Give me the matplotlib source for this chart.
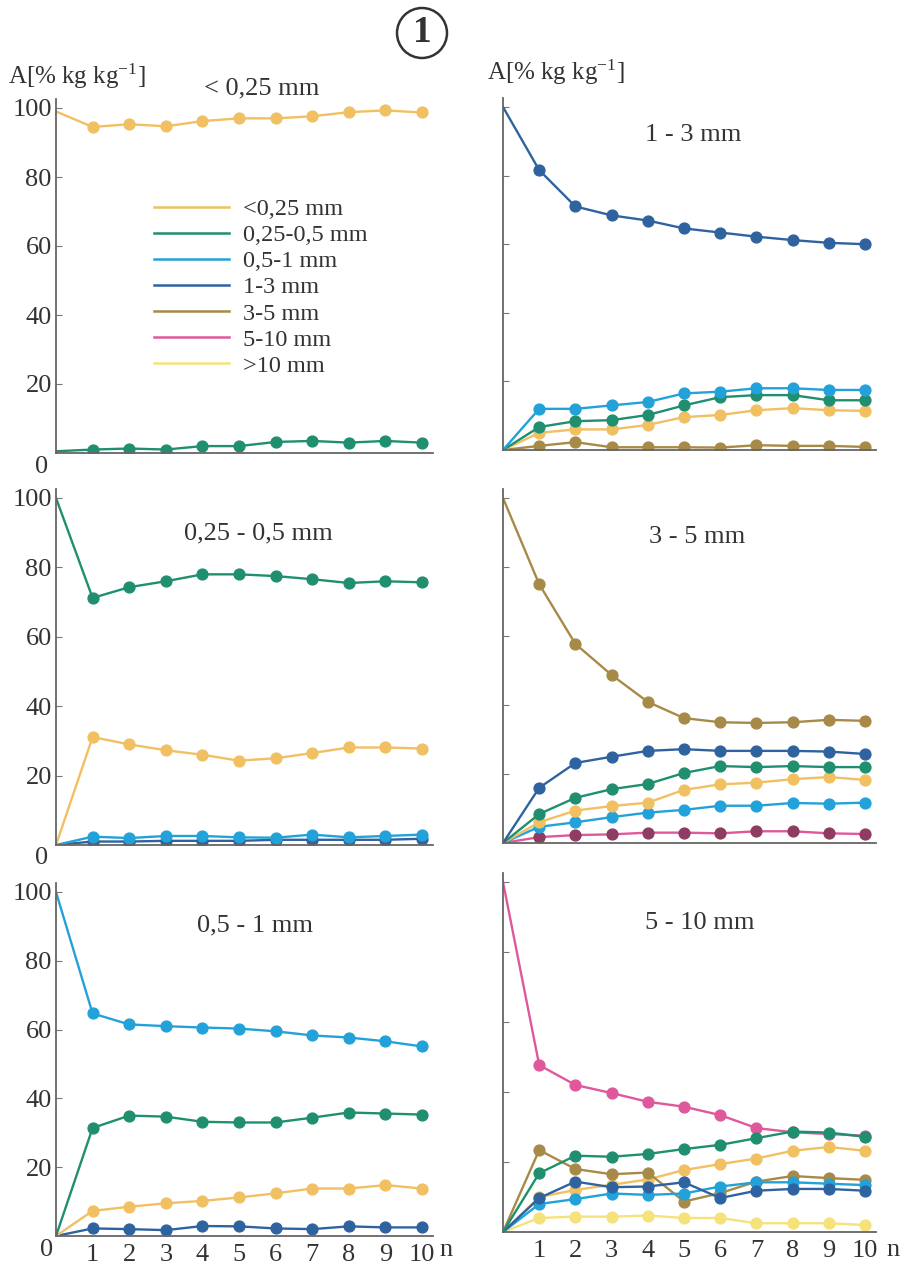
import matplotlib.pyplot as plt
from matplotlib.lines import Line2D

plt.rcParams['font.family'] = ['Liberation Serif', 'DejaVu Serif']
plt.rcParams['mathtext.default'] = 'regular'

n = [0, 1, 2, 3, 4, 5, 6, 7, 8, 9, 10]

labels = ['<0,25 mm', '0,25-0,5 mm', '0,5-1 mm', '1-3 mm', '3-5 mm', '5-10 mm', '>10 mm']
colors = ['#f1c062', '#1f8f70', '#22a2d8', '#2f63a0', '#a88a48', '#e0589c', '#f6e27a']

# panel < 0,25 mm
a_lt025 = [99, 94.5, 95.3, 94.7, 96.2, 97, 97, 97.6, 98.8, 99.3, 98.7]
a_025_05 = [0.5, 1, 1.3, 1, 2, 2, 3.2, 3.5, 3, 3.5, 3]

# panel 1 - 3 mm
b_1_3 = [100, 81.6, 71, 68.4, 66.9, 64.6, 63.4, 62.2, 61.2, 60.4, 60]
b_05_1 = [0, 12, 12, 13, 14, 16.5, 17, 18, 18, 17.5, 17.5]
b_025_05 = [0, 6.7, 8.4, 8.7, 10.2, 13, 15.4, 16, 16, 14.5, 14.5]
b_lt025 = [0, 5, 6, 6, 7.3, 9.6, 10.2, 11.6, 12.2, 11.6, 11.4]
b_3_5 = [0, 1.2, 2.3, 0.8, 0.8, 0.8, 0.7, 1.4, 1.2, 1.2, 0.9]

# panel 0,25 - 0,5 mm
c_025_05 = [100, 71.2, 74.3, 76, 78, 78, 77.5, 76.6, 75.5, 76, 75.7]
c_lt025 = [0, 31.1, 29, 27.3, 26, 24.3, 25, 26.5, 28.1, 28.1, 27.8]
c_05_1 = [0, 2.4, 2, 2.6, 2.6, 2.2, 2.1, 3, 2.2, 2.6, 3]
c_1_3 = [0, 1, 1, 1.2, 1.2, 1.2, 1.5, 1.5, 1.5, 1.5, 1.8]

# panel 3 - 5 mm
d_3_5 = [100, 75, 57.7, 48.7, 40.9, 36.2, 35, 34.8, 35, 35.7, 35.4]
d_1_3 = [0, 16, 23.2, 25, 26.7, 27.2, 26.7, 26.7, 26.7, 26.5, 25.8]
d_025_05 = [0, 8.4, 13.1, 15.6, 17.1, 20.3, 22.3, 22, 22.3, 22, 22]
d_lt025 = [0, 6, 9.4, 10.7, 11.7, 15.4, 17, 17.5, 18.5, 19.1, 18.3]
d_05_1 = [0, 4.7, 6, 7.5, 8.8, 9.6, 10.8, 10.8, 11.6, 11.4, 11.7]
d_5_10 = [0, 1.7, 2.3, 2.5, 3, 3, 2.8, 3.4, 3.4, 2.8, 2.6]

# panel 0,5 - 1 mm
e_05_1 = [100, 64.7, 61.5, 61, 60.6, 60.3, 59.5, 58.3, 57.7, 56.6, 55.1]
e_025_05 = [0, 31.4, 35, 34.7, 33.2, 33, 33, 34.4, 35.9, 35.6, 35.3]
e_lt025 = [0, 7.3, 8.5, 9.5, 10.2, 11.2, 12.4, 13.8, 13.8, 14.8, 13.8]
e_1_3 = [0, 2.2, 2, 1.7, 2.9, 2.8, 2.2, 2, 2.8, 2.5, 2.5]

# panel 5 - 10 mm
f_5_10 = [100, 47.7, 42, 39.7, 37.2, 35.8, 33.4, 29.7, 28.5, 28, 27.5]
f_025_05 = [0, 16.8, 21.8, 21.5, 22.3, 23.7, 24.9, 26.8, 28.7, 28.4, 27.2]
f_3_5 = [0, 23.4, 18, 16.5, 17, 8.7, 11.1, 14.4, 16, 15.4, 14.9]
f_lt025 = [0, 10, 12, 13.5, 15, 17.7, 19.4, 21, 23.2, 24.3, 23.2]
f_1_3 = [0, 9.7, 14.4, 12.8, 13, 14.2, 9.7, 11.8, 12.3, 12.3, 11.8]
f_05_1 = [0, 8, 9.4, 11, 10.6, 11, 13, 14.2, 14.2, 13.8, 13.4]
f_gt10 = [0, 4, 4.4, 4.4, 4.7, 4, 4, 2.5, 2.5, 2.5, 2]

W, H = 910, 1266
TXT = '#333333'
fig = plt.figure(figsize=(W / 100, H / 100), dpi=100)


def fx(x, y):
    return x / W, 1 - y / H


def panel(left, base, xs, ys, ylabels, xlabels):
    w, h = 10.3 * xs, 102.5 * ys
    ax = fig.add_axes([left / W, (H - base) / H, w / W, h / H])
    ax.set_xlim(0, 10.3)
    ax.set_ylim(0, 102.5)
    for s in ['top', 'right']:
        ax.spines[s].set_visible(False)
    for s in ['left', 'bottom']:
        ax.spines[s].set_color('#666666')
        ax.spines[s].set_linewidth(1.3)
    ax.set_yticks([20, 40, 60, 80, 100])
    ax.tick_params(axis='y', direction='in', length=4, color='#777777',
                   labelsize=19, labelcolor=TXT, pad=3, labelleft=ylabels)
    if xlabels:
        ax.set_xticks(n[1:])
        ax.tick_params(axis='x', length=0, labelsize=19, labelcolor=TXT, pad=6)
    else:
        ax.set_xticks([])
    return ax


def draw(ax, vals, k, mfc=None):
    c = colors[k]
    ax.plot(n, vals, color=c, lw=1.7, marker='o', ms=7.8, mfc=mfc or c,
            mec=mfc or c, markevery=slice(1, None))


ax1 = panel(56, 453, 36.6, 3.45, True, False)
draw(ax1, a_025_05, 1)
draw(ax1, a_lt025, 0)

ax2 = panel(503, 450, 36.2, 3.43, False, False)
draw(ax2, b_3_5, 4)
draw(ax2, b_lt025, 0)
draw(ax2, b_025_05, 1)
draw(ax2, b_05_1, 2)
draw(ax2, b_1_3, 3)

ax3 = panel(56, 845, 36.6, 3.47, True, False)
draw(ax3, c_1_3, 3)
draw(ax3, c_05_1, 2)
draw(ax3, c_lt025, 0)
draw(ax3, c_025_05, 1)

ax4 = panel(503, 843, 36.2, 3.45, False, False)
draw(ax4, d_5_10, 5, mfc='#8e3c62')
draw(ax4, d_05_1, 2)
draw(ax4, d_lt025, 0)
draw(ax4, d_025_05, 1)
draw(ax4, d_1_3, 3)
draw(ax4, d_3_5, 4)

ax5 = panel(56, 1236, 36.6, 3.44, True, True)
draw(ax5, e_1_3, 3)
draw(ax5, e_lt025, 0)
draw(ax5, e_025_05, 1)
draw(ax5, e_05_1, 2)

ax6 = panel(503, 1232, 36.2, 3.5, False, True)
draw(ax6, f_gt10, 6)
draw(ax6, f_lt025, 0)
draw(ax6, f_3_5, 4)
draw(ax6, f_05_1, 2)
draw(ax6, f_1_3, 3)
draw(ax6, f_5_10, 5)
draw(ax6, f_025_05, 1)

# legend inside the first panel
handles = [Line2D([], [], color=c, lw=1.8) for c in colors]
fig.legend(handles, labels, loc='upper left', bbox_to_anchor=fx(154, 198),
           frameon=False, fontsize=17.5, handlelength=3.1, handletextpad=0.55,
           labelspacing=0.17, borderpad=0, borderaxespad=0, labelcolor=TXT)

# panel titles
titles = [('< 0,25 mm', 262, 88), ('1 - 3 mm', 693, 135), ('0,25 - 0,5 mm', 258, 533),
          ('3 - 5 mm', 697, 537), ('0,5 - 1 mm', 255, 925), ('5 - 10 mm', 700, 923)]
for t, x, y in titles:
    fig.text(*fx(x, y), t, ha='center', va='center', fontsize=19, color=TXT)

ylab = 'A[% kg kg$^{-1}$]'
fig.text(*fx(8, 76), ylab, ha='left', va='center', fontsize=18, color=TXT)
fig.text(*fx(487, 72), ylab, ha='left', va='center', fontsize=18, color=TXT)

for x, y in [(42, 467), (42, 858), (47, 1250)]:
    fig.text(*fx(x, y), '0', ha='center', va='center', fontsize=19, color=TXT)
for x in [446, 893]:
    fig.text(*fx(x, 1250), 'n', ha='center', va='center', fontsize=19, color=TXT)

fig.text(*fx(422, 33), '1', ha='center', va='center', fontsize=27, fontweight='bold',
         color=TXT, bbox=dict(boxstyle='circle,pad=0.2', fc='none', ec=TXT, lw=1.8))

fig.savefig('out.png', dpi=100)
